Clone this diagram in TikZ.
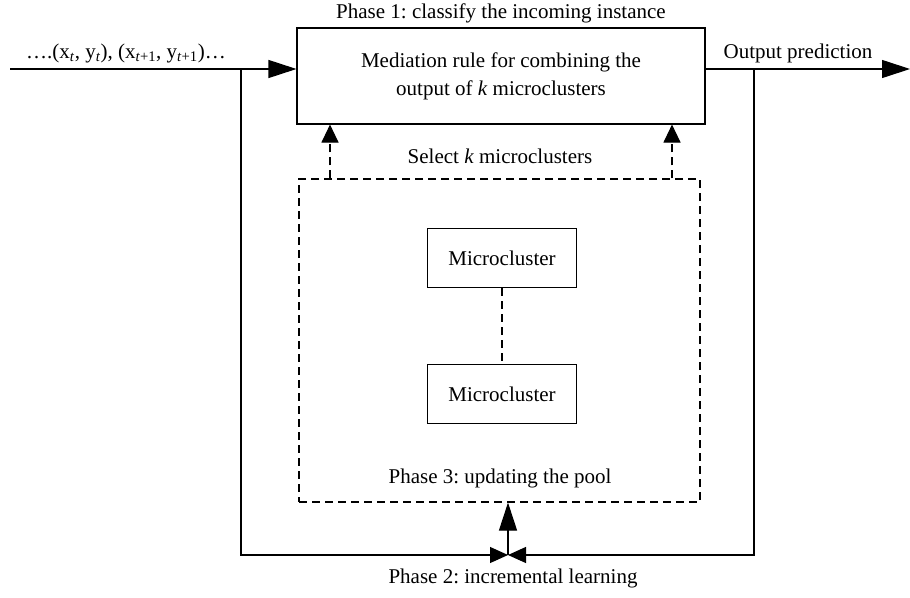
\documentclass[tikz,border=0pt]{standalone}
\usepackage{fontspec}
\setmainfont{Liberation Serif}
\usetikzlibrary{arrows.meta,positioning}
\frenchspacing
\tikzset{
  mcbox/.style={draw, minimum width=149pt, minimum height=59pt, inner sep=0pt},
  bigtip/.style={-{Triangle[length=28pt,width=18pt]}},
  smalltip/.style={-{Triangle[length=18pt,width=17pt]}},
  sidetip/.style={-{Triangle[length=18pt,width=16pt]}},
  dsh/.style={dash pattern=on 8pt off 5pt},
}
\begin{document}
\begin{tikzpicture}[x=1pt, y=-1pt, line width=1.1pt, font=\fontsize{21}{28}\selectfont]
\useasboundingbox (0,0) rectangle (910,597);
% blocks
\node[draw, minimum width=408pt, minimum height=96pt, align=center] (rule) at (501,76)
  {Mediation rule for combining the\\output of \textit{k} microclusters};
\node[draw, dsh, minimum width=401pt, minimum height=323pt] (pool) at (499.5,340.5) {};
\node[mcbox] (mc1) at (502,258) {Microcluster};
\node[mcbox] (mc2) at (502,394) {Microcluster};
\draw[dsh] (mc1) -- (mc2);
% labels
\node (ph1) at (501,13) {Phase 1: classify the incoming instance};
\node (sel) at (500,156) {Select \textit{k} microclusters};
\node (ph3) at (500,478) {Phase 3: updating the pool};
\node (ph2) at (513,578) {Phase 2: incremental learning};
\node (inlbl) at (126,53) {\ldots.(x\textsubscript{\textit{t}}, y\textsubscript{\textit{t}}), (x\textsubscript{\textit{t}+1}, y\textsubscript{\textit{t}+1})\ldots};
\node (outlbl) at (798,53) {Output prediction};
% connectors
\coordinate (in) at (10,69);
\coordinate (out) at (910,69);
\coordinate (lt) at (241,69);
\coordinate (rt) at (754,69);
\coordinate (join) at (508,555);
\draw[bigtip] (in) -- (in -| rule.west);
\draw[bigtip] (rule.east |- out) -- (out);
\draw[sidetip] (lt) |- (join);
\draw[sidetip] (rt) |- (join);
\draw[bigtip] (join) -- (join |- pool.south);
\foreach \x in {330,672}
  \draw[dsh, smalltip] (\x,0 |- pool.north) -- (\x,0 |- rule.south);
\end{tikzpicture}
\end{document}
